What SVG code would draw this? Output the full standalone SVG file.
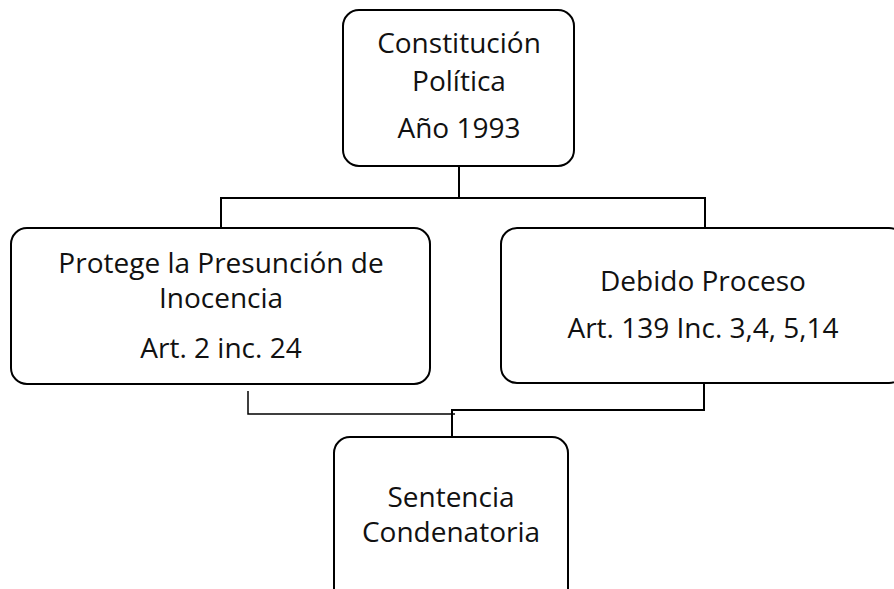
<svg xmlns="http://www.w3.org/2000/svg" width="894" height="589" viewBox="0 0 894 589">
<style>
.box{fill:#fff;stroke:#000;stroke-width:2}
.t{font-family:"Open Sans","Liberation Sans",sans-serif;font-size:28px;fill:#111;text-anchor:middle}
.c{fill:none;stroke:#000;stroke-width:2}
.c1{fill:none;stroke:#000;stroke-width:1.5}
</style>
<rect width="894" height="589" fill="#fff"/>
<g id="connectors">
<polyline class="c" points="459,166 459,198"/>
<polyline class="c" points="221,228 221,198 705,198 705,228"/>
<polyline class="c1" points="248,391 248,414 455,414"/>
<polyline class="c" points="704,383 704,410 452,410 452,437"/>
</g>
<g id="n1">
<rect class="box" x="343" y="10" width="231" height="156" rx="16"/>
<text class="t" x="459" y="53">Constitución</text>
<text class="t" x="459" y="91">Política</text>
<text class="t" x="459" y="138">Año 1993</text>
</g>
<g id="n2">
<rect class="box" x="11" y="228" width="419" height="156" rx="16"/>
<text class="t" x="221" y="273">Protege la Presunción de</text>
<text class="t" x="221" y="308">Inocencia</text>
<text class="t" x="221" y="358">Art. 2 inc. 24</text>
</g>
<g id="n3">
<rect class="box" x="501" y="228" width="404" height="155" rx="16"/>
<text class="t" x="703" y="291">Debido Proceso</text>
<text class="t" x="703" y="338">Art. 139 Inc. 3,4, 5,14</text>
</g>
<g id="n4">
<rect class="box" x="334" y="437" width="234" height="170" rx="16"/>
<text class="t" x="451" y="507">Sentencia</text>
<text class="t" x="451" y="542">Condenatoria</text>
</g>
</svg>
